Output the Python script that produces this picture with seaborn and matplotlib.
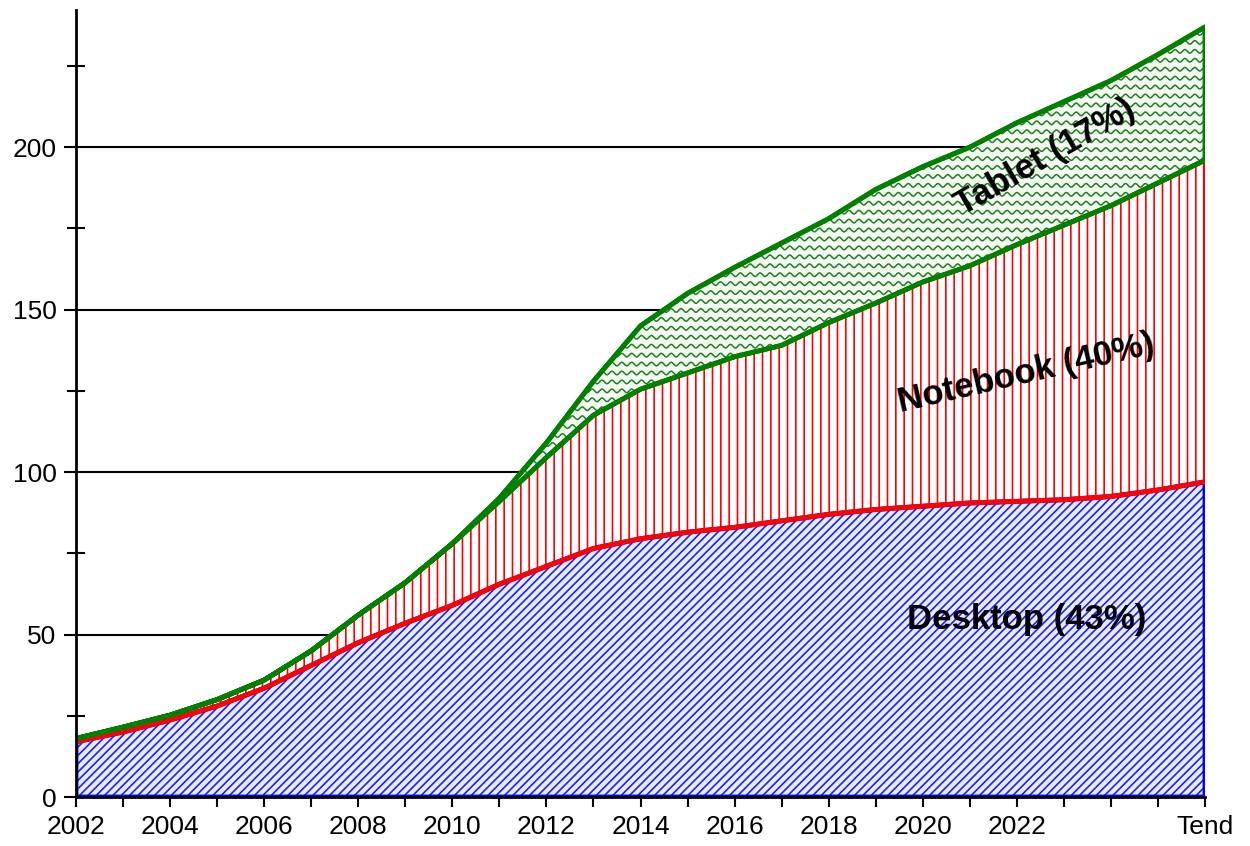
import numpy as np
import pandas as pd
import matplotlib
matplotlib.use("Agg")
import matplotlib.pyplot as plt
import seaborn as sns

# values (millions)
years = list(range(2002, 2027))
desktop_top = [17, 20, 23.7, 28, 33.5, 40.5, 47.5, 53.5, 59, 65.5, 71, 76.5, 79.5,
               81.5, 83, 85, 87, 88.5, 89.5, 90.5, 91, 91.5, 92.5, 94.5, 97]
notebook_top = [18, 21.5, 25.2, 30, 36, 45, 56, 66, 78, 91, 104.5, 117.5, 125.5,
                130.5, 135.5, 139, 146, 152, 158.5, 163.5, 170, 176, 182, 189, 196]
tablet_top = [18, 21.5, 25.2, 30, 36, 45, 56, 66, 78, 92, 109, 128, 145,
              155, 163, 170.5, 178, 187, 194, 200, 207.5, 214, 220.5, 228.5, 237]

tick_years = list(range(2002, 2027))
tick_labels = [str(y) if (y % 2 == 0 and y <= 2022) else "" for y in tick_years]
tick_labels[-1] = "Tend"

labels = ["Desktop (43%)", "Notebook (40%)", "Tablet (17%)"]

df = pd.DataFrame({"year": years, "desktop": desktop_top,
                   "notebook": notebook_top, "tablet": tablet_top})

sns.set_style("ticks")
plt.rcParams["font.family"] = ["Liberation Sans", "DejaVu Sans"]
plt.rcParams["hatch.linewidth"] = 1.2
for k in ["text.color", "axes.labelcolor", "xtick.color", "ytick.color", "axes.edgecolor"]:
    plt.rcParams[k] = "black"

blue, red, green = "#1010ff", "#ff0000", "#008000"

fig = plt.figure(figsize=(12.5, 8.46), dpi=100)
ax = fig.add_axes([0.0608, 0.0579, 0.9032, 0.9302])

# areas (white background hides the grid, hatch gives the texture)
ax.fill_between(df["year"], 0, df["desktop"], facecolor="#e6ecff",
                edgecolor="#2020f0", hatch="////", linewidth=0, zorder=2)
ax.fill_between(df["year"], df["desktop"], df["notebook"], facecolor="white",
                edgecolor=red, hatch="||", linewidth=0, zorder=2)
tab = ax.fill_between(df["year"], df["notebook"], df["tablet"], facecolor="#f4faf2",
                      linewidth=0, zorder=2)

# wavy pattern for the tablet band
clip = tab.get_paths()[0]
xs = np.linspace(2009, 2026, 3400)
for y0 in np.arange(70, 245, 2.75):
    wave, = ax.plot(xs, y0 + 0.55 * np.sin(2 * np.pi * (xs - 2002) / 0.21),
                    color="#1f7f1f", lw=1.1, zorder=3)
    wave.set_clip_path(clip, ax.transData)

# outlines
ax.fill_between(df["year"], 0, df["desktop"], facecolor="none", edgecolor="#0000ff",
                linewidth=3.5, zorder=4)
ax.fill_between(df["year"], df["desktop"], df["notebook"], facecolor="none",
                edgecolor=red, linewidth=3, zorder=4)
sns.lineplot(data=df, x="year", y="desktop", color=red, lw=3.5, ax=ax, zorder=5)
ax.fill_between(df["year"], df["notebook"], df["tablet"], facecolor="none",
                edgecolor=green, linewidth=3.5, zorder=6)
sns.lineplot(data=df, x="year", y="notebook", color=green, lw=3.5, ax=ax, zorder=6)
sns.lineplot(data=df, x="year", y="tablet", color=green, lw=3.5, ax=ax, zorder=6)

ax.set_xlim(2002, 2026)
ax.set_ylim(0, 242.2)
ax.set_yticks([0, 50, 100, 150, 200])
ax.set_yticks([25, 75, 125, 175, 225], minor=True)
ax.set_xticks(tick_years)
ax.set_xticklabels(tick_labels)
ax.set_xlabel("")
ax.set_ylabel("")
ax.tick_params(axis="y", which="major", direction="out", length=9, width=1.5,
               labelsize=19, pad=5)
ax.tick_params(axis="y", which="minor", direction="inout", length=13, width=1.5)
ax.tick_params(axis="x", which="major", direction="out", length=7, width=1.5,
               labelsize=19, pad=6)

ax.yaxis.grid(True, color="black", lw=1.5)
ax.set_axisbelow(True)
sns.despine(ax=ax)
for s in ["left", "bottom"]:
    ax.spines[s].set_linewidth(2)
    ax.spines[s].set_zorder(7)

ax.text(2022.2, 54.5, labels[0], fontsize=25, fontweight="bold", ha="center",
        va="center", zorder=8)
ax.text(2022.2, 130.5, labels[1], fontsize=25, fontweight="bold", ha="center",
        va="center", rotation=13, zorder=8)
ax.text(2022.6, 197, labels[2], fontsize=25, fontweight="bold", ha="center",
        va="center", rotation=30, zorder=8)

fig.savefig("out.png", dpi=100)
